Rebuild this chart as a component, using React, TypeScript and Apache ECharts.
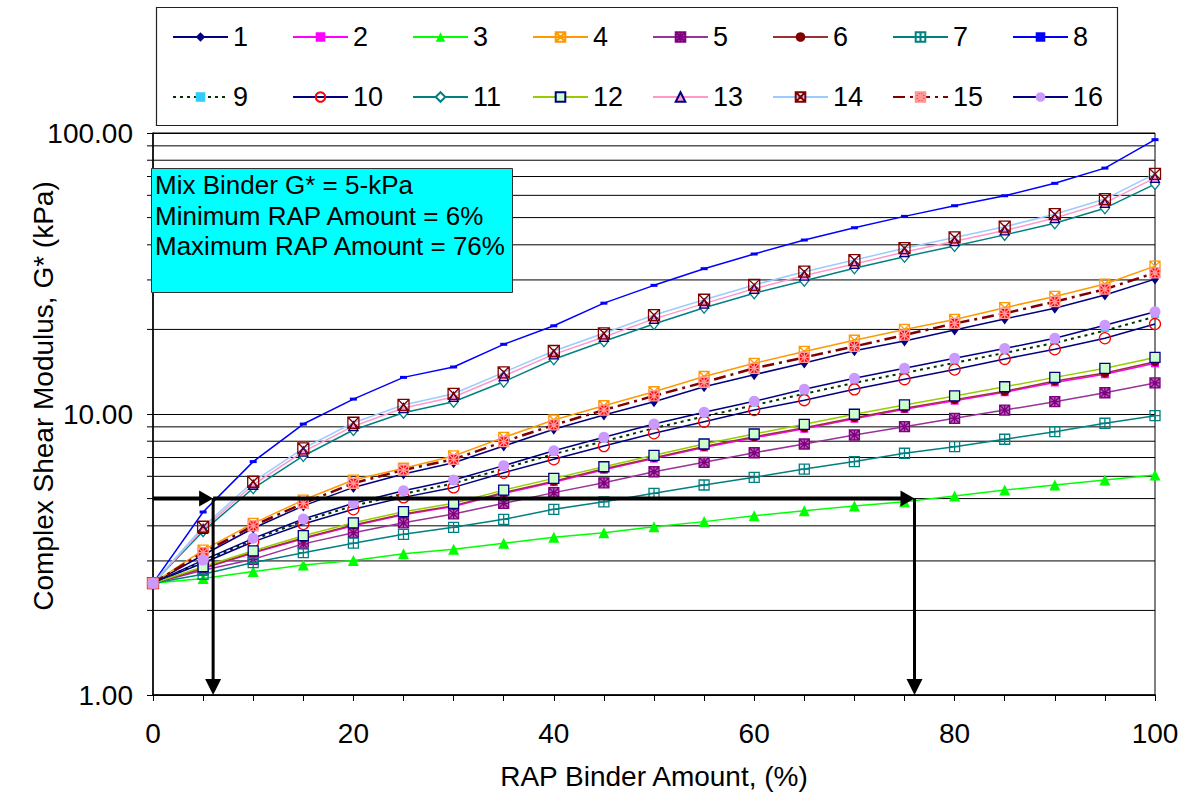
import React, { useEffect, useRef } from "react";
import * as echarts from "echarts";

// RAP binder content (%) at which every blend was evaluated
const rapAmount = [0, 5, 10, 15, 20, 25, 30, 35, 40, 45, 50, 55, 60, 65, 70, 75, 80, 85, 90, 95, 100];

const seriesNames = ["1", "2", "3", "4", "5", "6", "7", "8", "9", "10", "11", "12", "13", "14", "15", "16"];

// Complex shear modulus G* (kPa) of the blended binder, one list per RAP source
const g1 = [2.5, 3.15, 3.92, 4.71, 5.48, 6.12, 6.71, 7.69, 8.82, 9.92, 11.06, 12.5, 13.8, 15.2, 16.8, 18.2, 19.9, 21.8, 23.8, 26.5, 30.2];
const g2 = [2.5, 2.82, 3.2, 3.6, 4.0, 4.38, 4.69, 5.22, 5.72, 6.33, 6.94, 7.6, 8.23, 8.86, 9.62, 10.4, 11.15, 11.95, 12.95, 13.85, 15.15];
const g3 = [2.5, 2.6, 2.75, 2.9, 3.01, 3.18, 3.3, 3.47, 3.64, 3.78, 3.97, 4.14, 4.34, 4.53, 4.71, 4.87, 5.11, 5.36, 5.59, 5.82, 6.07];
const g4 = [2.5, 3.28, 4.08, 4.94, 5.82, 6.41, 7.09, 8.26, 9.52, 10.7, 12.0, 13.6, 15.15, 16.7, 18.3, 20.0, 21.7, 23.9, 26.2, 29.0, 33.6];
const g5 = [2.5, 2.78, 3.04, 3.45, 3.78, 4.1, 4.41, 4.81, 5.25, 5.69, 6.23, 6.73, 7.28, 7.82, 8.42, 9.01, 9.65, 10.33, 11.06, 11.9, 12.9];
const g6 = [2.5, 2.83, 3.22, 3.62, 4.03, 4.41, 4.72, 5.26, 5.76, 6.38, 6.99, 7.66, 8.3, 8.93, 9.7, 10.48, 11.25, 12.05, 13.1, 14.0, 15.35];
const g7 = [2.5, 2.69, 2.96, 3.21, 3.47, 3.73, 3.95, 4.22, 4.58, 4.87, 5.22, 5.59, 5.95, 6.37, 6.77, 7.25, 7.65, 8.13, 8.65, 9.27, 9.86];
const g8 = [2.5, 4.48, 6.77, 9.21, 11.3, 13.5, 14.7, 17.7, 20.6, 24.8, 28.7, 32.9, 37.1, 41.6, 46.0, 50.5, 55.1, 59.8, 66.2, 75.0, 94.7];
const g9 = [2.5, 2.99, 3.57, 4.16, 4.71, 5.2, 5.66, 6.4, 7.2, 8.0, 8.9, 9.8, 10.75, 11.8, 12.9, 14.0, 15.2, 16.5, 17.9, 19.8, 22.2];
const g10 = [2.5, 2.95, 3.51, 4.06, 4.58, 5.05, 5.48, 6.18, 6.9, 7.69, 8.54, 9.39, 10.33, 11.2, 12.24, 13.3, 14.4, 15.7, 17.0, 18.6, 20.9];
const g11 = [2.5, 3.83, 5.44, 7.09, 8.77, 10.1, 11.06, 13.03, 15.66, 18.15, 20.9, 23.9, 26.9, 29.8, 33.0, 36.3, 39.6, 43.4, 47.7, 54.0, 65.8];
const g12 = [2.5, 2.86, 3.26, 3.69, 4.1, 4.49, 4.81, 5.36, 5.9, 6.49, 7.13, 7.82, 8.49, 9.19, 9.98, 10.77, 11.6, 12.5, 13.5, 14.54, 15.9];
const g13 = [2.5, 3.9, 5.6, 7.35, 9.05, 10.5, 11.5, 13.65, 16.3, 18.8, 21.8, 24.7, 27.9, 31.1, 34.2, 37.7, 41.2, 45.0, 49.8, 56.4, 69.2];
const g14 = [2.5, 3.97, 5.74, 7.55, 9.31, 10.77, 11.8, 14.07, 16.76, 19.37, 22.5, 25.5, 28.8, 32.1, 35.3, 38.9, 42.5, 46.4, 51.4, 58.2, 71.5];
const g15 = [2.5, 3.21, 4.0, 4.81, 5.67, 6.32, 6.9, 7.97, 9.14, 10.33, 11.6, 12.97, 14.54, 15.9, 17.4, 19.1, 21.0, 22.8, 25.1, 27.8, 31.8];
const g16 = [2.5, 3.02, 3.61, 4.23, 4.81, 5.33, 5.82, 6.55, 7.4, 8.26, 9.21, 10.14, 11.1, 12.24, 13.4, 14.54, 15.8, 17.1, 18.6, 20.7, 23.1];

const seriesValues = [g1, g2, g3, g4, g5, g6, g7, g8, g9, g10, g11, g12, g13, g14, g15, g16];

// Target mix binder stiffness and the resulting RAP limits
const mixBinderG = 5;
const minRap = 6;
const maxRap = 76;

// Log-scale minor gridlines between the decades
const minorGridValues = [2, 3, 4, 5, 6, 7, 8, 9, 20, 30, 40, 50, 60, 70, 80, 90];

const infoLines = [
  "Mix Binder G* = 5-kPa",
  "Minimum RAP Amount = 6%",
  "Maximum RAP Amount = 76%",
];

const FONT = '"Liberation Sans", Arial, Helvetica, sans-serif';

const boxX = "path://M0,0L10,0L10,10L0,10Z M0,0L10,10 M10,0L0,10";
const boxStar = "path://M0,0L10,0L10,10L0,10Z M0,0L10,10 M10,0L0,10 M5,0L5,10 M0,5L10,5";
const boxPlus = "path://M0,0L10,0L10,10L0,10Z M5,0L5,10 M0,5L10,5";
const clear = "rgba(255,255,255,0)";

type Look = {
  line: string;
  symbol: string;
  size: number | number[];
  fill: string;
  border?: string;
  type?: any;
  width?: number;
};

const looks: Look[] = [
  { line: "#000080", symbol: "diamond", size: [8, 11], fill: "#000080" },
  { line: "#ff00ff", symbol: "rect", size: 8, fill: "#ff00ff" },
  { line: "#00ff00", symbol: "triangle", size: 11, fill: "#00ff00" },
  { line: "#ff9900", symbol: boxX, size: 10, fill: clear, border: "#ff9900" },
  { line: "#993399", symbol: boxStar, size: 10, fill: "#b366b3", border: "#800080" },
  { line: "#993333", symbol: "circle", size: 9, fill: "#800000" },
  { line: "#008080", symbol: boxPlus, size: 10, fill: clear, border: "#008080" },
  { line: "#0000ff", symbol: "rect", size: [7, 3], fill: "#0000ff" },
  { line: "#003300", symbol: "rect", size: [8, 3], fill: "#33ccff", type: [3, 4], width: 2 },
  { line: "#000080", symbol: "circle", size: 11, fill: clear, border: "#ff0000" },
  { line: "#008080", symbol: "diamond", size: [9, 11], fill: "#ffffff", border: "#008080" },
  { line: "#99cc00", symbol: "rect", size: 10, fill: "#ccffcc", border: "#000080" },
  { line: "#ff99cc", symbol: "triangle", size: 9, fill: "#ff99cc", border: "#000080" },
  { line: "#99ccff", symbol: boxX, size: 11, fill: clear, border: "#800000" },
  { line: "#800000", symbol: boxStar, size: 10, fill: "#ff0000", border: "#ff9999", type: [12, 5, 3, 5], width: 2.5 },
  { line: "#000080", symbol: "circle", size: 11, fill: "#cc99ff" },
];

function buildOption() {
  const lineSeries = seriesNames.map((name, i) => {
    const look = looks[i];
    return {
      name,
      type: "line",
      data: rapAmount.map((x, k) => [x, seriesValues[i][k]]),
      symbol: look.symbol,
      symbolSize: look.size,
      showAllSymbol: true,
      lineStyle: { color: look.line, width: look.width ?? 1.5, type: look.type ?? "solid" },
      itemStyle: {
        color: look.fill,
        borderColor: look.border ?? look.fill,
        borderWidth: look.border ? 1.3 : 0,
      },
      emphasis: { disabled: true },
      silent: true,
      z: 3,
    };
  });

  // Minor log gridlines with their outside ticks on the value axis
  const gridSeries = {
    type: "custom",
    name: "grid",
    silent: true,
    z: 1,
    data: minorGridValues.map((v) => [0, v]),
    encode: { x: 0, y: 1 },
    renderItem: (_p: any, api: any) => {
      const v = api.value(1);
      const a = api.coord([0, v]);
      const b = api.coord([100, v]);
      return {
        type: "line",
        shape: { x1: a[0] - 6, y1: a[1], x2: b[0], y2: b[1] },
        style: { stroke: "#000", lineWidth: 1 },
      };
    },
  };

  // Arrows reading the RAP limits off the 5 kPa target
  const arrowSegments = [
    [0, mixBinderG, minRap, mixBinderG],
    [minRap, mixBinderG, maxRap, mixBinderG],
    [minRap, mixBinderG, minRap, 1],
    [maxRap, mixBinderG, maxRap, 1],
  ];
  const arrowSeries = {
    type: "custom",
    name: "arrows",
    silent: true,
    z: 10,
    data: arrowSegments,
    encode: { x: [0, 2], y: [1, 3] },
    renderItem: (_p: any, api: any) => {
      const a = api.coord([api.value(0), api.value(1)]);
      const b = api.coord([api.value(2), api.value(3)]);
      const dx = b[0] - a[0];
      const dy = b[1] - a[1];
      const len = Math.hypot(dx, dy) || 1;
      const ux = dx / len;
      const uy = dy / len;
      const vertical = Math.abs(dx) < 1;
      const w = vertical ? 3 : 4;
      const headLen = vertical ? 16 : 14;
      const half = 8;
      const bx = b[0] - ux * headLen;
      const by = b[1] - uy * headLen;
      return {
        type: "group",
        children: [
          {
            type: "line",
            shape: { x1: a[0], y1: a[1], x2: bx + ux, y2: by + uy },
            style: { stroke: "#000", lineWidth: w },
          },
          {
            type: "polygon",
            shape: {
              points: [
                [b[0], b[1]],
                [bx - uy * half, by + ux * half],
                [bx + uy * half, by - ux * half],
              ],
            },
            style: { fill: "#000" },
          },
        ],
      };
    },
  };

  const legends = seriesNames.map((name, i) => {
    const row = Math.floor(i / 8);
    const col = i % 8;
    return {
      data: [name],
      left: 172 + col * 120,
      top: row === 0 ? 22 : 82,
      padding: 0,
      itemWidth: 55,
      itemHeight: 12,
      selectedMode: false,
      textStyle: { fontSize: 27, fontFamily: FONT, color: "#000", lineHeight: 30 },
    };
  });

  return {
    animation: false,
    backgroundColor: "#ffffff",
    textStyle: { fontFamily: FONT },
    legend: legends,
    grid: {
      left: 153,
      right: 31,
      top: 133,
      bottom: 100,
      show: true,
      borderColor: "#000",
      borderWidth: 1,
      backgroundColor: "transparent",
    },
    xAxis: {
      type: "value",
      min: 0,
      max: 100,
      interval: 5,
      axisLine: { show: true, lineStyle: { color: "#000", width: 1.5 } },
      axisTick: { show: true, inside: false, length: 6, lineStyle: { color: "#000", width: 1 } },
      axisLabel: {
        fontSize: 28,
        fontFamily: FONT,
        color: "#000",
        margin: 24,
        formatter: (v: number) => (Math.round(v) % 20 === 0 ? String(Math.round(v)) : ""),
      },
      splitLine: { show: false },
    },
    yAxis: {
      type: "log",
      logBase: 10,
      min: 1,
      max: 100,
      axisLine: { show: true, lineStyle: { color: "#000", width: 1.5 } },
      axisTick: { show: true, inside: false, length: 6, lineStyle: { color: "#000", width: 1 } },
      axisLabel: {
        fontSize: 28,
        fontFamily: FONT,
        color: "#000",
        margin: 20,
        formatter: (v: number) => Number(v).toFixed(2),
      },
      splitLine: { show: true, lineStyle: { color: "#000", width: 1 } },
    },
    graphic: [
      {
        type: "rect",
        shape: { x: 156.5, y: 7.5, width: 961, height: 118 },
        style: { fill: "#ffffff", stroke: "#222", lineWidth: 1.2 },
        z: -1,
        silent: true,
      },
      {
        type: "rect",
        shape: { x: 151.5, y: 168.5, width: 361, height: 124 },
        style: { fill: "#00ffff", stroke: "#333", lineWidth: 1 },
        z: 20,
        silent: true,
      },
      ...infoLines.map((t, i) => ({
        type: "text",
        x: 155,
        y: 185 + i * 30.5,
        z: 21,
        silent: true,
        style: {
          text: t,
          fontSize: 26,
          fontFamily: FONT,
          fill: "#000",
          align: "left",
          verticalAlign: "middle",
          textAlign: "left",
          textVerticalAlign: "middle",
        },
      })),
      {
        type: "text",
        x: 654,
        y: 776,
        silent: true,
        style: {
          text: "RAP Binder Amount, (%)",
          fontSize: 28,
          fontFamily: FONT,
          fill: "#000",
          align: "center",
          verticalAlign: "middle",
          textAlign: "center",
          textVerticalAlign: "middle",
        },
      },
      {
        type: "text",
        x: 43,
        y: 396,
        rotation: Math.PI / 2,
        silent: true,
        style: {
          text: "Complex Shear Modulus, G* (kPa)",
          fontSize: 28,
          fontFamily: FONT,
          fill: "#000",
          align: "center",
          verticalAlign: "middle",
          textAlign: "center",
          textVerticalAlign: "middle",
        },
      },
    ],
    series: [gridSeries, ...lineSeries, arrowSeries],
  };
}

export default function App() {
  const ref = useRef<HTMLDivElement>(null);

  useEffect(() => {
    if (!ref.current) return;
    const chart = echarts.init(ref.current, undefined, { renderer: "svg" });
    chart.setOption(buildOption() as any);
    return () => chart.dispose();
  }, []);

  return (
    <div
      ref={ref}
      style={{ position: "fixed", left: 0, top: 0, width: 1186, height: 795, background: "#fff" }}
    />
  );
}
